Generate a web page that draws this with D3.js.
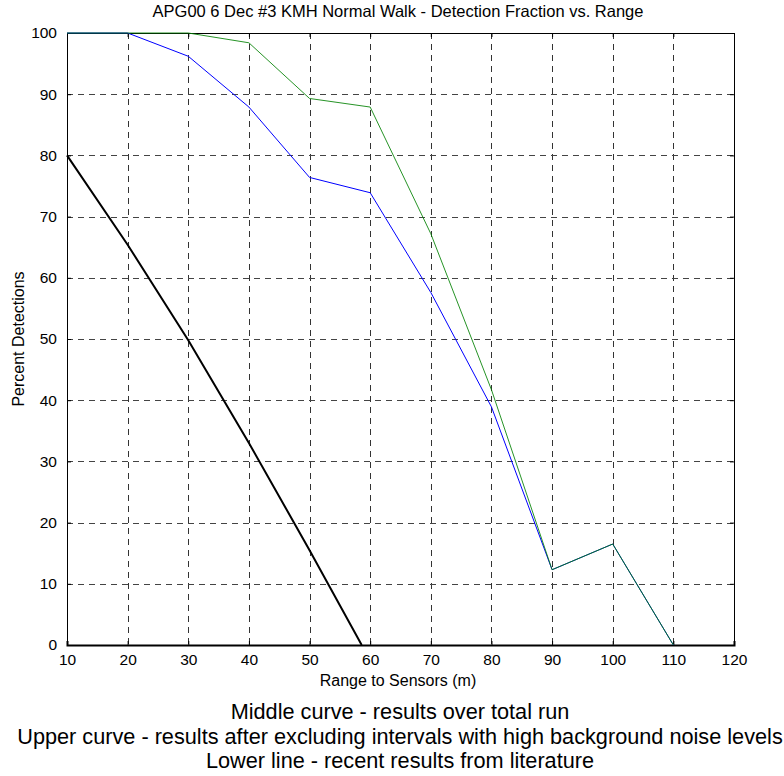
<!DOCTYPE html>
<html>
<head>
<meta charset="utf-8">
<script src="https://cdn.jsdelivr.net/npm/d3@7"></script>
<style>
  body { margin: 0; background: #fff; }
  svg text { font-family: "Liberation Sans", Arial, sans-serif; fill: #000; }
</style>
</head>
<body>
<svg id="chart" width="784" height="776"></svg>
<script>
// range (m) vs percent detections
const rangeTicks = [10, 20, 30, 40, 50, 60, 70, 80, 90, 100, 110, 120];
const percentTicks = [0, 10, 20, 30, 40, 50, 60, 70, 80, 90, 100];

const middleRange = [10, 20, 30, 40, 50, 60, 70, 80, 90, 100, 110];
const middleValues = [100, 100, 96.2, 87.9, 76.4, 73.9, 57.6, 38.9, 12.3, 16.5, 0];

const upperRange = [10, 20, 30, 40, 50, 60, 70, 80, 90, 100, 110];
const upperValues = [100, 100, 100, 98.4, 89.3, 87.9, 67.2, 41.7, 12.3, 16.5, 0];

const lowerRange = [10, 20, 30, 40, 50, 58.6];
const lowerValues = [80, 65.4, 49.8, 33, 15.5, 0];

const captions = [
    "Middle curve - results over total run",
    "Upper curve - results after excluding intervals with high background noise levels",
    "Lower line - recent results from literature"
];

const margin = {top: 33, left: 67, right: 50, bottom: 131};
const W = 784, H = 776;
const w = W - margin.left - margin.right;
const h = H - margin.top - margin.bottom;

const svg = d3.select("#chart");
const g = svg.append("g").attr("transform", "translate(" + margin.left + "," + margin.top + ")");

const x = d3.scaleLinear().domain([10, 120]).range([0, w]);
const y = d3.scaleLinear().domain([0, 100]).range([h, 0]);

// dashed grid
g.append("g").selectAll("line").data(rangeTicks.slice(1, -1)).enter()
    .append("line")
    .attr("x1", d => Math.round(x(d)) + 0.5).attr("x2", d => Math.round(x(d)) + 0.5)
    .attr("y1", 0).attr("y2", h)
    .attr("stroke", "#333").attr("stroke-dasharray", "6,5");

g.append("g").selectAll("line").data(percentTicks.slice(1, -1)).enter()
    .append("line")
    .attr("y1", d => Math.round(y(d)) + 0.5).attr("y2", d => Math.round(y(d)) + 0.5)
    .attr("x1", 0).attr("x2", w)
    .attr("stroke", "#444").attr("stroke-dasharray", "6,5");

// axes, ticks pointing in like matlab
const xAxis = g.append("g").attr("transform", "translate(0," + h + ")")
    .call(d3.axisBottom(x).tickValues(rangeTicks).tickSize(-4).tickPadding(9));
const xTop = g.append("g")
    .call(d3.axisTop(x).tickValues(rangeTicks).tickSize(-4).tickFormat(""));
const yAxis = g.append("g")
    .call(d3.axisLeft(y).tickValues(percentTicks).tickSize(-4).tickPadding(10));
const yRight = g.append("g").attr("transform", "translate(" + w + ",0)")
    .call(d3.axisRight(y).tickValues(percentTicks).tickSize(-4).tickFormat(""));

[xAxis, xTop, yAxis, yRight].forEach(a => {
    a.select(".domain").attr("stroke", "#000").attr("stroke-width", 1);
    a.selectAll(".tick line").attr("stroke", "#000");
    a.selectAll("text").style("font-size", "15.5px").attr("fill", "#000");
});
xAxis.select(".domain").attr("stroke-width", 2);

const line = d3.line().x(d => x(d[0])).y(d => y(d[1]));

g.append("path")
    .datum(d3.zip(lowerRange, lowerValues))
    .attr("d", line).attr("fill", "none")
    .attr("stroke", "#000").attr("stroke-width", 2);

g.append("path")
    .datum(d3.zip(middleRange, middleValues))
    .attr("d", line).attr("fill", "none")
    .attr("stroke", "#0000ff").attr("stroke-width", 1);

g.append("path")
    .datum(d3.zip(upperRange, upperValues))
    .attr("d", line).attr("fill", "none")
    .attr("stroke", "#008000").attr("stroke-width", 1)
    .attr("stroke-opacity", 0.85);

// labels
svg.append("text")
    .attr("x", 398).attr("y", 17)
    .attr("text-anchor", "middle").style("font-size", "16.5px")
    .text("APG00 6 Dec #3 KMH Normal Walk - Detection Fraction vs. Range");

svg.append("text")
    .attr("x", 398).attr("y", 686)
    .attr("text-anchor", "middle").style("font-size", "16px")
    .text("Range to Sensors (m)");

svg.append("text")
    .attr("transform", "translate(24," + (margin.top + h / 2) + ") rotate(-90)")
    .attr("text-anchor", "middle").style("font-size", "16px")
    .text("Percent Detections");

svg.append("g").selectAll("text").data(captions).enter()
    .append("text")
    .attr("x", 400)
    .attr("y", (d, i) => 719 + i * 24.5)
    .attr("text-anchor", "middle").style("font-size", "21.7px")
    .text(d => d);
</script>
</body>
</html>
